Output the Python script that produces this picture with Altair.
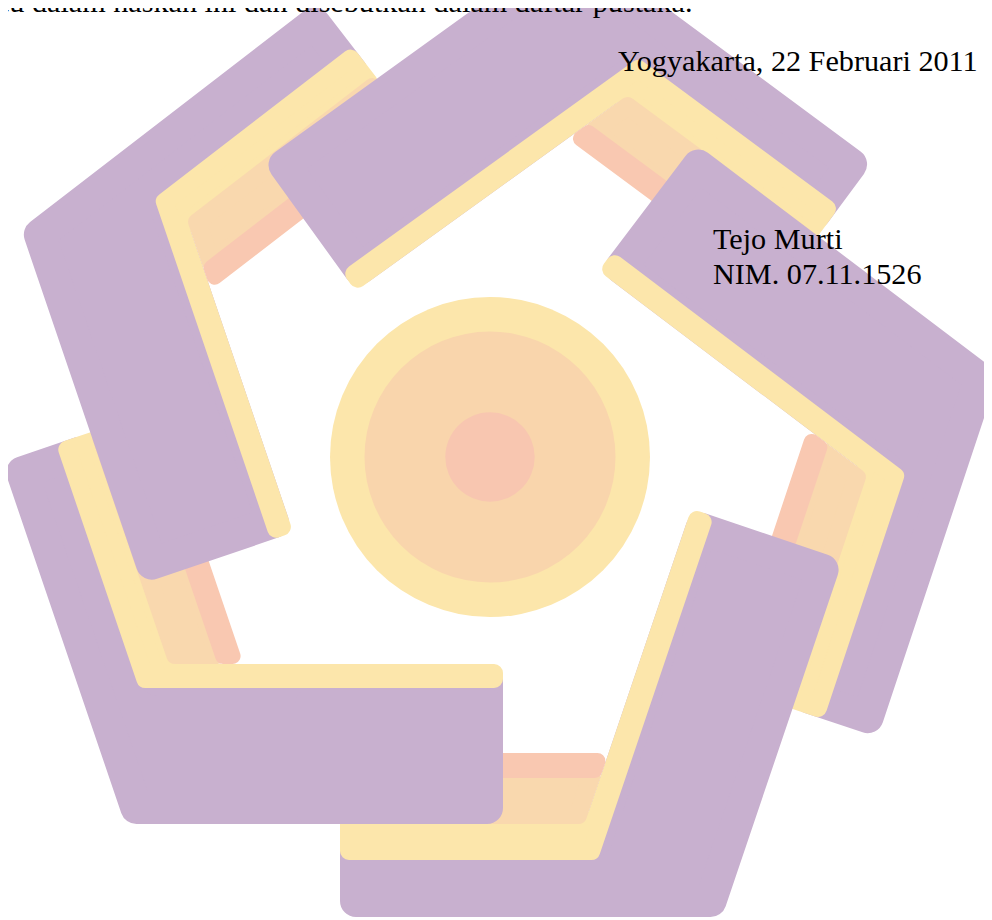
import math
import altair as alt
import pandas as pd

# ---------------- values (image pixel units) ----------------
# five chevrons of the watermark logo: outer corner, arm directions (deg, screen), arm lengths
chev = ["A", "B", "C", "D", "E"]
corner_x = [125, 21, 572, 999, 722]
corner_y = [824, 229, -62, 373, 917]
thin_angle = [251.2, 322.4, 36.5, 108.4, 180.0]
thick_angle = [0.0, 71.2, 144.2, 217.1, 288.7]
thin_len = [382, 374, 375, 384, 382]
thick_len = [378, 375, 382, 381, 377]
# band widths across the narrow arm (purple, yellow, orange, salmon) and the wide arm (purple, yellow)
thin_bands = [57, 36, 46, 25]
thick_bands = [136, 24]

# central disc
ring_names = ["outer", "middle", "inner"]
ring_cx = [490, 490, 490]
ring_cy = [457, 457, 457]
ring_r = [160, 125.5, 44.7]

# text on the page
text_lines = [
    "diacu dalam naskah ini dan disebutkan dalam daftar pustaka.",
    "Yogyakarta, 22 Februari 2011",
    "Tejo Murti",
    "NIM. 07.11.1526",
]
text_x = [-41, 618, 713, 713]
text_y = [12, 71, 249, 284]

# ---------------- styling ----------------
PURPLE = "#C8B0CF"
YELLOW = "#FCE6AB"
ORANGE = "#F9D8AE"
SALMON = "#F9C8B1"
colors = {"purple": PURPLE, "yellow": YELLOW, "orange": ORANGE, "salmon": SALMON}
corner_round = {"purple": 16, "yellow": 9, "orange": 9, "salmon": 8}
tuck = 12  # how far a lower band slides under the band drawn over it


# ---------------- geometry helpers ----------------
def unit(deg):
    a = math.radians(deg)
    return (math.cos(a), math.sin(a))


def inset(pts, r):
    """Shrink a polygon by r; it is drawn back out with a round-joined stroke of width 2r."""
    n = len(pts)
    area = sum(pts[i][0] * pts[(i + 1) % n][1] - pts[(i + 1) % n][0] * pts[i][1] for i in range(n))
    lines = []
    for i in range(n):
        (x1, y1), (x2, y2) = pts[i], pts[(i + 1) % n]
        dx, dy = x2 - x1, y2 - y1
        L = math.hypot(dx, dy)
        dx, dy = dx / L, dy / L
        nx, ny = (-dy, dx) if area > 0 else (dy, -dx)
        lines.append(((x1 + r * nx, y1 + r * ny), (dx, dy)))
    out = []
    for i in range(n):
        (ax, ay), (adx, ady) = lines[i - 1]
        (bx, by), (bdx, bdy) = lines[i]
        den = adx * bdy - ady * bdx
        s = ((bx - ax) * bdy - (by - ay) * bdx) / den
        out.append((ax + s * adx, ay + s * ady))
    return out


rows = []
order = []  # drawing order of the pieces
geo = {}
for c, ox, oy, ta, ka, lt, lk in zip(chev, corner_x, corner_y, thin_angle, thick_angle, thin_len, thick_len):
    t = unit(ta)
    k = unit(ka)
    nt = (-t[1], t[0])
    if nt[0] * k[0] + nt[1] * k[1] < 0:
        nt = (t[1], -t[0])
    nk = (-k[1], k[0])
    if nk[0] * t[0] + nk[1] * t[1] < 0:
        nk = (k[1], -k[0])
    det = nt[0] * nk[1] - nt[1] * nk[0]

    def X(a, b, ox=ox, oy=oy, nt=nt, nk=nk, det=det):
        return (ox + (a * nk[1] - nt[1] * b) / det, oy + (nt[0] * b - a * nk[0]) / det)

    def Et(a, ox=ox, oy=oy, t=t, nt=nt, lt=lt):
        return (ox + lt * t[0] + a * nt[0], oy + lt * t[1] + a * nt[1])

    def Ek(b, s=None, ox=ox, oy=oy, k=k, nk=nk, lk=lk):
        s = lk if s is None else s
        return (ox + s * k[0] + b * nk[0], oy + s * k[1] + b * nk[1])

    w1 = thin_bands[0]
    w2 = w1 + thin_bands[1]
    w3 = w2 + thin_bands[2]
    w4 = w3 + thin_bands[3]
    v1 = thick_bands[0]
    v2 = v1 + thick_bands[1]
    O = (ox, oy)
    pieces = [
        ("purple", [O, Et(0), Et(w2), X(w2, v2), Ek(v2), Ek(0)]),
        ("yellow", [X(w1, v1), Et(w1), Et(w2 + tuck), X(w2 + tuck, v2), Ek(v2), Ek(v1)]),
        ("orange", [X(w2, v2), Et(w2), Et(w3 + tuck), X(w3 + tuck, v2)]),
        ("salmon", [X(w3, v2), Et(w3), Et(w4), X(w4, v2)]),
    ]
    if c == "A":
        # the wide arm of the first chevron lies over the narrow arm of the last one
        geo["A_top"] = ("purple", [Ek(0, 170), Ek(v1, 170), Ek(v1), Ek(0)])
    for part, pts in pieces:
        geo[f"{c}_{part}"] = (part, pts)
        order.append(f"{c}_{part}")
order.append("A_top")

for pid, (part, pts) in geo.items():
    for i, (px, py) in enumerate(inset(pts, corner_round[part])):
        rows.append({"pid": pid, "part": part, "i": i, "x": px, "y": py})

verts = pd.DataFrame(rows)
rings = pd.DataFrame({"ring": ring_names, "x": ring_cx, "y": ring_cy, "r": ring_r})
texts = pd.DataFrame({"label": text_lines, "x": text_x, "y": text_y})

# ---------------- chart ----------------
W, H = 976, 910
xs = alt.Scale(domain=[8, 8 + W], nice=False, zero=False)
ys = alt.Scale(domain=[8, 8 + H], nice=False, zero=False, reverse=True)
X_ = alt.X("x:Q", scale=xs, axis=None)
Y_ = alt.Y("y:Q", scale=ys, axis=None)


def poly(pid):
    part = geo[pid][0]
    col = colors[part]
    return (
        alt.Chart(verts)
        .transform_filter(alt.datum.pid == pid)
        .mark_line(filled=True, interpolate="linear-closed", color=col, stroke=col,
                   strokeWidth=2 * corner_round[part], strokeJoin="round", clip=True)
        .encode(x=X_, y=Y_, order=alt.Order("i:Q"))
    )


circles = (
    alt.Chart(rings)
    .transform_calculate(sym="4 * datum.r * datum.r")
    .mark_circle(opacity=1, clip=True)
    .encode(
        x=X_, y=Y_,
        size=alt.Size("sym:Q", scale=None, legend=None),
        color=alt.Color("ring:N", scale=alt.Scale(domain=ring_names,
                        range=["#FCE6AB", "#F9D5AC", "#F8C6B0"]), legend=None),
        order=alt.Order("r:Q", sort="descending"),
    )
)

labels = (
    alt.Chart(texts)
    .mark_text(align="left", baseline="alphabetic", font="Liberation Serif",
               fontSize=30.2, color="#000000", clip=True)
    .encode(x=X_, y=Y_, text="label:N")
)

chart = (
    alt.layer(*[poly(p) for p in order], circles, labels)
    .properties(width=W, height=H, padding=0,
                autosize=alt.AutoSizeParams(type="none"), background="white")
    .configure_view(strokeWidth=0)
)

chart.save("out.html", embed_options={"renderer": "svg", "actions": False})
